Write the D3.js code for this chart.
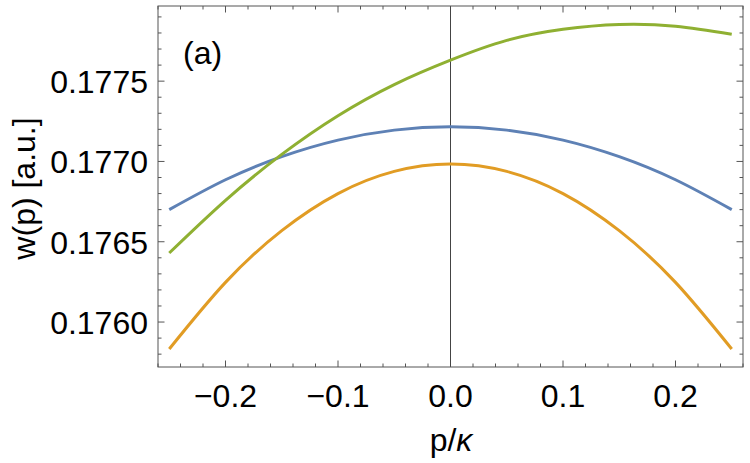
<!DOCTYPE html>
<html>
<head>
<meta charset="utf-8">
<script src="https://cdn.jsdelivr.net/npm/d3@7"></script>
<style>
  body { margin: 0; background: #fff; }
  svg { display: block; font-family: "Liberation Sans", Arial, sans-serif; }
  .frame { fill: none; stroke: #555; stroke-width: 1; }
  .tick-mark { stroke: #555; stroke-width: 1; }
  .ticklabel { font-size: 32px; fill: #000; }
  .line { fill: none; stroke-width: 3; }
</style>
</head>
<body>
<div id="chart"></div>
<script>
(function () {
  // p/kappa sample points
  const p = [-0.25, -0.2, -0.15, -0.1, -0.05, 0, 0.05, 0.1, 0.15, 0.2, 0.25];

  const blue = [0.17670, 0.176886, 0.177030, 0.177133, 0.177195, 0.177216,
                0.177195, 0.177133, 0.177030, 0.176886, 0.17670];
  const orange = [0.175832, 0.176247, 0.176569, 0.176800, 0.176938, 0.176984,
                  0.176938, 0.176800, 0.176569, 0.176247, 0.175832];
  const green = [0.17643, 0.176758, 0.177044, 0.177285, 0.177479, 0.177631,
                 0.177754, 0.177823, 0.177853, 0.177842, 0.177792];

  const series = [
    {name: "blue", values: blue, color: "#5E81B5"},
    {name: "orange", values: orange, color: "#E19C24"},
    {name: "green", values: green, color: "#8FB032"}
  ];

  const xTicks = [-0.2, -0.1, 0.0, 0.1, 0.2];
  const yTicks = [0.1760, 0.1765, 0.1770, 0.1775];

  const W = 750, H = 463;
  const margin = {top: 6, right: 7, bottom: 96, left: 158};
  const width = W - margin.left - margin.right;
  const height = H - margin.top - margin.bottom;

  const svg = d3.select("#chart").append("svg")
    .attr("width", W)
    .attr("height", H);

  const g = svg.append("g")
    .attr("transform", "translate(" + margin.left + "," + margin.top + ")");

  const x = d3.scaleLinear().domain([-0.26, 0.26]).range([0, width]);
  const y = d3.scaleLinear().domain([0.17572, 0.177968]).range([height, 0]);

  // minor ticks
  const xMinor = d3.range(-0.26, 0.2601, 0.02).map(v => +v.toFixed(2));
  const yMinor = d3.range(0.1758, 0.17797, 0.0001).map(v => +v.toFixed(4));

  const ticks = g.append("g");
  xMinor.forEach(function (v) {
    const major = xTicks.some(t => Math.abs(t - v) < 1e-9);
    const len = major ? 6.5 : 3.5;
    ticks.append("line").attr("class", "tick-mark")
      .attr("x1", x(v)).attr("x2", x(v)).attr("y1", height).attr("y2", height - len);
    ticks.append("line").attr("class", "tick-mark")
      .attr("x1", x(v)).attr("x2", x(v)).attr("y1", 0).attr("y2", len);
  });
  yMinor.forEach(function (v) {
    const major = yTicks.some(t => Math.abs(t - v) < 1e-9);
    const len = major ? 6.5 : 3.5;
    ticks.append("line").attr("class", "tick-mark")
      .attr("x1", 0).attr("x2", len).attr("y1", y(v)).attr("y2", y(v));
    ticks.append("line").attr("class", "tick-mark")
      .attr("x1", width).attr("x2", width - len).attr("y1", y(v)).attr("y2", y(v));
  });

  // tick labels
  g.selectAll(".xlabel").data(xTicks).enter().append("text")
    .attr("class", "ticklabel")
    .attr("x", d => x(d))
    .attr("y", height + 40)
    .attr("text-anchor", "middle")
    .text(d => (d < 0 ? "\u2212" : "") + Math.abs(d).toFixed(1));

  g.selectAll(".ylabel").data(yTicks).enter().append("text")
    .attr("class", "ticklabel")
    .attr("x", -10)
    .attr("y", d => y(d) + 12)
    .attr("text-anchor", "end")
    .text(d => d.toFixed(4));

  // vertical line at p = 0
  g.append("line")
    .attr("x1", x(0)).attr("x2", x(0))
    .attr("y1", 0).attr("y2", height)
    .attr("stroke", "#444").attr("stroke-width", 1);

  const line = d3.line()
    .x((d, i) => x(p[i]))
    .y(d => y(d))
    .curve(d3.curveNatural);

  g.selectAll(".line").data(series).enter().append("path")
    .attr("class", "line")
    .attr("stroke", d => d.color)
    .attr("d", d => line(d.values));

  g.append("rect")
    .attr("class", "frame")
    .attr("x", 0).attr("y", 0)
    .attr("width", width).attr("height", height);

  // panel label
  g.append("text")
    .attr("x", 25).attr("y", 58)
    .attr("font-size", 32)
    .text("(a)");

  // axis titles
  svg.append("text")
    .attr("x", 451).attr("y", 451)
    .attr("text-anchor", "middle")
    .attr("font-size", 32)
    .html('p/<tspan font-style="italic">\u03ba</tspan>');

  svg.append("text")
    .attr("transform", "translate(35," + (margin.top + height / 2 + 2) + ") rotate(-90)")
    .attr("text-anchor", "middle")
    .attr("font-size", 32)
    .text("w(p) [a.u.]");
})();
</script>
</body>
</html>
